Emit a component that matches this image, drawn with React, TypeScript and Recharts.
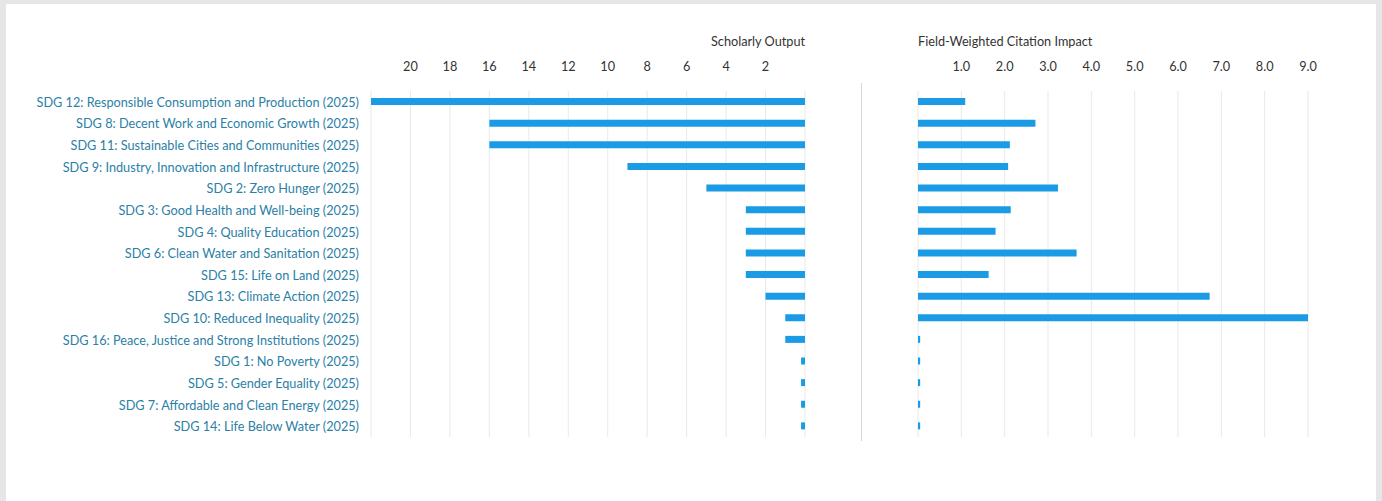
import { BarChart, Bar, XAxis, YAxis, CartesianGrid } from 'recharts';

const categories = [
  'SDG 12: Responsible Consumption and Production (2025)',
  'SDG 8: Decent Work and Economic Growth (2025)',
  'SDG 11: Sustainable Cities and Communities (2025)',
  'SDG 9: Industry, Innovation and Infrastructure (2025)',
  'SDG 2: Zero Hunger (2025)',
  'SDG 3: Good Health and Well-being (2025)',
  'SDG 4: Quality Education (2025)',
  'SDG 6: Clean Water and Sanitation (2025)',
  'SDG 15: Life on Land (2025)',
  'SDG 13: Climate Action (2025)',
  'SDG 10: Reduced Inequality (2025)',
  'SDG 16: Peace, Justice and Strong Institutions (2025)',
  'SDG 1: No Poverty (2025)',
  'SDG 5: Gender Equality (2025)',
  'SDG 7: Affordable and Clean Energy (2025)',
  'SDG 14: Life Below Water (2025)',
];

const scholarlyOutput = [22, 16, 16, 9, 5, 3, 3, 3, 3, 2, 1, 1, 0.2, 0.2, 0.2, 0.2];
const fwci = [1.09, 2.71, 2.12, 2.08, 3.23, 2.14, 1.79, 3.66, 1.63, 6.73, 9.0, 0.05, 0.05, 0.05, 0.05, 0.05];

const outputTicks = [0, 2, 4, 6, 8, 10, 12, 14, 16, 18, 20, 22];
const fwciTicks = [0, 1, 2, 3, 4, 5, 6, 7, 8, 9];

const data = categories.map((name, i) => ({ name, output: scholarlyOutput[i], fwci: fwci[i] }));

const FONT = 'Lato, "Open Sans", sans-serif';
const FS = 12.7;
const BAR = '#1b9be6';
const GRID = '#e9e9e9';
const LABEL = '#2b80a6';
const TICK = '#333333';

// plain svg text so long labels never wrap
const CategoryTick = (props: any) => {
  const { x, y, payload } = props;
  return (
    <text x={x} y={y} textAnchor="end" dominantBaseline="central" fontSize={FS} fill={LABEL} fontFamily={FONT}>
      {payload.value}
    </text>
  );
};

export default function App() {
  return (
    <div style={{ position: 'fixed', left: 0, top: 0, width: 1382, height: 501, background: '#e6e6e6', fontFamily: FONT, overflow: 'hidden' }}>
      <div style={{ position: 'absolute', left: 6, top: 4, width: 1370, height: 520, background: '#ffffff' }} />

      <div style={{ position: 'absolute', left: 0, top: 33, width: 805, textAlign: 'right', fontSize: FS, color: TICK }}>
        Scholarly Output
      </div>
      <div style={{ position: 'absolute', left: 918, top: 33, fontSize: FS, color: TICK }}>
        Field-Weighted Citation Impact
      </div>
      <div style={{ position: 'absolute', left: 861, top: 83, width: 1, height: 358, background: '#d6d6d6' }} />

      <div style={{ position: 'absolute', left: 0, top: 0 }}>
        <BarChart width={860} height={460} data={data} layout="vertical" margin={{ top: 51, right: 55, bottom: 23, left: 0 }}>
          <CartesianGrid horizontal={false} stroke={GRID} />
          <XAxis
            type="number"
            orientation="top"
            reversed
            domain={[0, 22]}
            ticks={outputTicks}
            interval={0}
            height={40}
            axisLine={false}
            tickLine={false}
            tickSize={0}
            tickMargin={20}
            tickFormatter={(v: number) => (v === 0 || v === 22 ? '' : String(v))}
            tick={{ fontSize: FS, fill: TICK, fontFamily: FONT }}
          />
          <YAxis
            type="category"
            dataKey="name"
            width={371}
            axisLine={false}
            tickLine={false}
            tickSize={0}
            tickMargin={12}
            interval={0}
            tick={<CategoryTick />}
          />
          <Bar dataKey="output" fill={BAR} barSize={7} isAnimationActive={false} />
        </BarChart>
      </div>

      <div style={{ position: 'absolute', left: 862, top: 0 }}>
        <BarChart width={506} height={460} data={data} layout="vertical" margin={{ top: 51, right: 60, bottom: 23, left: 56 }}>
          <CartesianGrid horizontal={false} stroke={GRID} />
          <XAxis
            type="number"
            orientation="top"
            domain={[0, 9]}
            ticks={fwciTicks}
            interval={0}
            height={40}
            axisLine={false}
            tickLine={false}
            tickSize={0}
            tickMargin={20}
            tickFormatter={(v: number) => (v === 0 ? '' : v.toFixed(1))}
            tick={{ fontSize: FS, fill: TICK, fontFamily: FONT }}
          />
          <YAxis type="category" dataKey="name" hide />
          <Bar dataKey="fwci" fill={BAR} barSize={7} isAnimationActive={false} />
        </BarChart>
      </div>
    </div>
  );
}
